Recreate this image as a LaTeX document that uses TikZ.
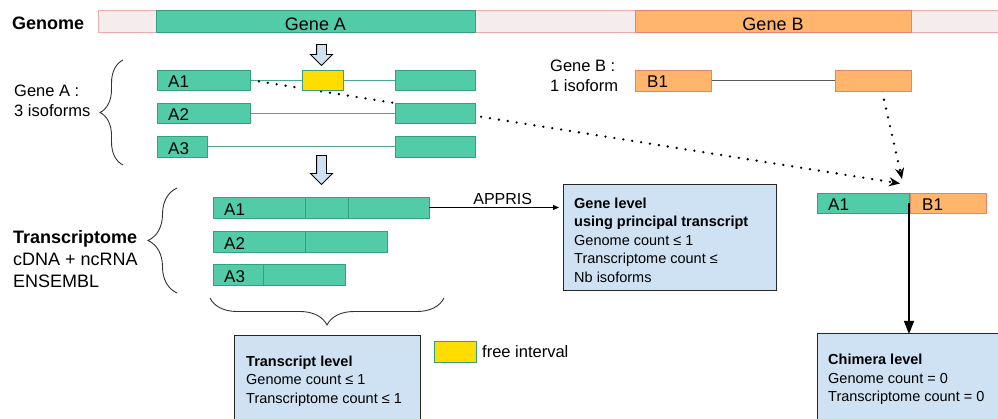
\documentclass[tikz,border=0pt]{standalone}
\usepackage{fontspec}
\setmainfont{Liberation Sans}
\usetikzlibrary{positioning,shapes.arrows,arrows.meta,decorations.pathreplacing,backgrounds}

\definecolor{geneA}{RGB}{82,204,168}
\definecolor{geneAdark}{RGB}{56,158,128}
\definecolor{geneB}{RGB}{255,181,107}
\definecolor{geneBdark}{RGB}{232,130,110}
\definecolor{genomefill}{RGB}{245,237,237}
\definecolor{genomedraw}{RGB}{241,170,170}
\definecolor{levelfill}{RGB}{207,226,243}
\definecolor{freefill}{RGB}{255,221,0}

\tikzset{
  sz/.style 2 args={minimum width=#1pt, minimum height=#2pt},
  bar/.style={rectangle, inner sep=0pt, outer sep=0pt, anchor=north west, line width=0.8pt},
  exonA/.style={bar, draw=geneAdark, fill=geneA},
  exonB/.style={bar, draw=geneBdark, fill=geneB},
  freebox/.style={bar, draw=geneAdark, fill=freefill},
  genomebar/.style={bar, draw=genomedraw, fill=genomefill},
  levelbox/.style={bar, draw=black!85, fill=levelfill, line width=1pt},
  barlabel/.style={text height=19pt, text depth=0pt, font=\fontsize{18}{20}\selectfont},
  lbl/.style={inner sep=0pt, font=\fontsize{17}{20}\selectfont},
  note/.style={inner sep=0pt, align=left, anchor=north west, font=\fontsize{16.5}{20}\selectfont},
  info/.style={inner sep=0pt, align=left, font=\fontsize{14.5}{18.5}\selectfont},
  downarrow/.style={single arrow, shape border rotate=270, draw=black, fill=levelfill,
    line width=0.9pt, inner sep=4.5pt, outer sep=0pt, single arrow head extend=6pt},
  intronA/.style={draw=geneAdark!90, line width=0.8pt},
  intronB/.style={draw=black!65, line width=0.8pt},
  dots/.style={line width=2.6pt, line cap=round, dash pattern=on 0pt off 9pt,
    -{Stealth[length=11pt,width=9pt]}},
  curly/.style={decorate, draw=black!80, line width=0.9pt},
}

\begin{document}
\begin{tikzpicture}[x=1pt, y=-1pt]
  \useasboundingbox (0,0) rectangle (998,419);

  % genome
  \node[genomebar, sz={904}{22}] (genome) at (98,10) {};
  \node[exonA, sz={319}{22}, barlabel] (geneA) at (156,10) {Gene A};
  \node[exonB, sz={276}{22}, barlabel] (geneB) at (635,10) {Gene B};
  \node[anchor=base west, inner sep=0pt, font=\bfseries\fontsize{18}{20}\selectfont] (genomelbl) at (12,29.5) {Genome};

  \node[downarrow, minimum height=21pt] (arr1) at (321.5,52.5) {};
  \node[downarrow, minimum height=29pt] (arr2) at (321.5,167.5) {};

  % gene A isoforms
  \node[note] (geneAnote) at (14,85) {Gene A :\\3 isoforms};
  \node[exonA, sz={93}{20}] (a1g) at (157,70) {};
  \node[freebox, sz={41}{20}] (a1f) at (302,70) {};
  \node[exonA, sz={80}{20}] (a1g2) at (395,70) {};
  \node[exonA, sz={93}{20}] (a2g) at (157,103) {};
  \node[exonA, sz={80}{20}] (a2g2) at (395,103) {};
  \node[exonA, sz={50}{21}] (a3g) at (157,136) {};
  \node[exonA, sz={80}{21}] (a3g2) at (395,136) {};
  \node[lbl, above right=2pt and 11pt of a1g.south west] (a1gtxt) {A1};
  \node[lbl, above right=2pt and 11pt of a2g.south west] (a2gtxt) {A2};
  \node[lbl, above right=2pt and 11pt of a3g.south west] (a3gtxt) {A3};

  % gene B isoform
  \node[note] (geneBnote) at (550,59.5) {Gene B :\\1 isoform};
  \node[exonB, sz={76}{21}] (b1g) at (635,70) {};
  \node[exonB, sz={76}{21}] (b1g2) at (835,70) {};
  \node[lbl, above right=3pt and 12pt of b1g.south west] (b1gtxt) {B1};

  % transcriptome
  \node[note, font=\fontsize{18}{22}\selectfont] (trnote) at (13,230.5) {\textbf{Transcriptome}\\cDNA + ncRNA\\ENSEMBL};
  \node[exonA, sz={92}{21}] (t1a) at (213,197) {};
  \node[exonA, sz={43}{21}, right=0pt of t1a] (t1b) {};
  \node[exonA, sz={81}{21}, right=0pt of t1b] (t1c) {};
  \node[exonA, sz={92}{21}] (t2a) at (213,231) {};
  \node[exonA, sz={82}{21}, right=0pt of t2a] (t2b) {};
  \node[exonA, sz={50}{21}] (t3a) at (213,264) {};
  \node[exonA, sz={82}{21}, right=0pt of t3a] (t3b) {};
  \node[lbl, above right=2pt and 11pt of t1a.south west] (t1txt) {A1};
  \node[lbl, above right=2pt and 11pt of t2a.south west] (t2txt) {A2};
  \node[lbl, above right=2pt and 11pt of t3a.south west] (t3txt) {A3};

  % levels
  \node[levelbox, sz={213}{106}] (genelvl) at (563,185) {};
  \node[info, below right=12.5pt and 11pt of genelvl.north west] (genetxt)
    {\textbf{Gene level}\\\textbf{using principal transcript}\\Genome count ≤ 1\\Transcriptome count ≤\\Nb isoforms};
  \node[levelbox, sz={186}{100}] (trlvl) at (234,336) {};
  \node[info, below right=19.5pt and 12pt of trlvl.north west] (trtxt)
    {\textbf{Transcript level}\\Genome count ≤ 1\\Transcriptome count ≤ 1};
  \node[levelbox, sz={200}{100}] (chimlvl) at (817,334) {};
  \node[info, below right=20pt and 11pt of chimlvl.north west] (chimtxt)
    {\textbf{Chimera level}\\Genome count = 0\\Transcriptome count = 0};

  % legend
  \node[freebox, sz={42}{21}] (legfree) at (434,341) {};
  \node[right=6pt of legfree, inner sep=0pt, font=\fontsize{16.5}{20}\selectfont] (legtxt) {free interval};

  % chimera
  \node[exonA, sz={92}{20}] (chA1) at (817,193) {};
  \node[exonB, sz={76}{20}, right=1pt of chA1] (chB1) {};
  \node[lbl, above right=2pt and 11pt of chA1.south west] (chA1txt) {A1};
  \node[lbl, above right=2pt and 12pt of chB1.south west] (chB1txt) {B1};

  % braces
  \coordinate (gbr1) at (123,165);
  \coordinate (gbr2) at (123,60);
  \coordinate (tbr1) at (177,293);
  \coordinate (tbr2) at (177,188);
  \coordinate (bbr1) at (444,298);
  \coordinate (bbr2) at (210,298);
  \draw[curly, decoration={brace, amplitude=23pt}] (gbr1) -- (gbr2);
  \draw[curly, decoration={brace, amplitude=29pt}] (tbr1) -- (tbr2);
  \draw[curly, decoration={brace, amplitude=27pt}] (bbr1) -- (bbr2);

  % arrows
  \coordinate (tipA) at (900,183.5);
  \coordinate (tipB) at (902,179);
  \draw[-{Triangle[length=6pt,width=5pt]}, line width=0.8pt, shorten >=4pt] (t1c.east) -- (t1c.east -| genelvl.west)
    node[pos=0.55, above=2pt, inner sep=0pt, font=\fontsize{16}{18}\selectfont] (appris) {APPRIS};
  \draw[-{Triangle[length=13pt,width=10pt]}, line width=1.2pt] (chA1.east) -- (chA1.east |- chimlvl.north);

  \begin{scope}[on background layer]
    \draw[intronA] (a1g.east) -- (a1g2.west);
    \draw[intronA] (a2g.east) -- (a2g2.west);
    \draw[intronA] (a3g.east) -- (a3g2.west);
    \draw[intronB] (b1g.east) -- (b1g2.west);
    \draw[dots] (a1g.east) -- (tipA);
    \draw[dots] ([xshift=9pt]b1g2.south) -- (tipB);
  \end{scope}
\end{tikzpicture}
\end{document}
